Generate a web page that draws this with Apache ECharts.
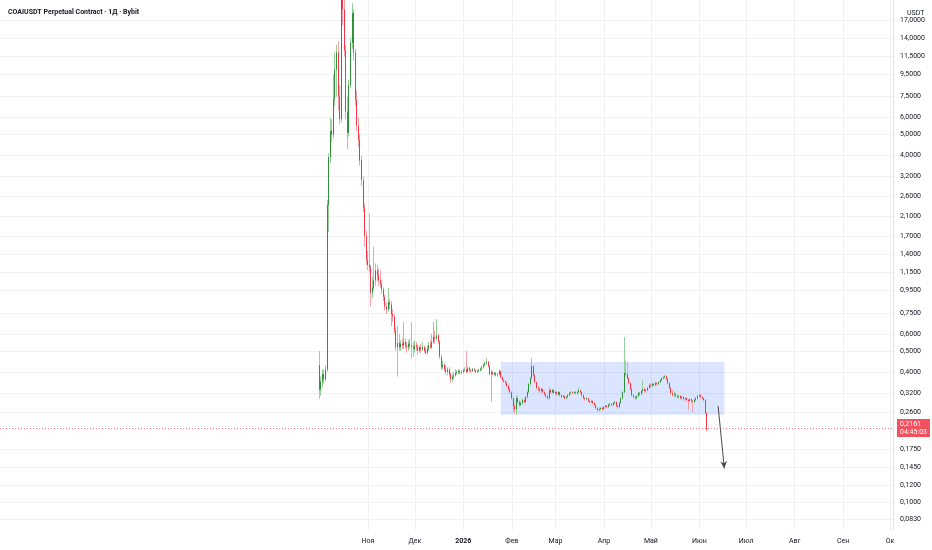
<!DOCTYPE html>
<html>
<head>
<meta charset="utf-8">
<script src="https://cdn.jsdelivr.net/npm/echarts@6/dist/echarts.min.js"></script>
<style>
html,body{margin:0;padding:0;background:#fff;}
#chart{width:932px;height:550px;}
</style>
</head>
<body>
<div id="chart"></div>
<script>
// ---------- data ----------
const titleText = 'COAIUSDT Perpetual Contract · 1Д · Bybit';
const currencyText = 'USDT';
const firstDay = '2025-10-01';
const axisStart = '2025-03-10T13:00:00';
const axisEnd = '2026-10-02T22:00:00';
const monthTicks = ['2025-11-01','2025-12-01','2026-01-01','2026-02-01','2026-03-01','2026-04-01','2026-05-01','2026-06-01','2026-07-01','2026-08-01','2026-09-01','2026-10-01'];
const monthLabels = ['Ноя','Дек','2026','Фев','Мар','Апр','Май','Июн','Июл','Авг','Сен','Ок'];
const priceTicks = [17,14,11.5,9.5,7.5,6,5,4,3.2,2.6,2.1,1.7,1.4,1.15,0.95,0.75,0.6,0.5,0.4,0.32,0.26,0.175,0.145,0.12,0.1,0.083];
const priceMin = 0.0742;
const priceMax = 21.0;
const lastPrice = 0.2161;
const countdown = '04:45:03';
const rangeBox = { from: '2026-01-25', to: '2026-06-17', top: 0.444, bottom: 0.253 };
const arrowFrom = ['2026-06-13', 0.278];
const arrowTo = ['2026-06-17', 0.143];
// daily candles from firstDay: [open, close, low, high]
const ohlc = [
[0.43,0.33,0.30,0.50],[0.33,0.36,0.31,0.38],[0.36,0.39,0.34,0.41],[0.39,0.37,0.35,0.41],[0.37,0.41,0.36,0.43],
[0.41,2.37,0.40,2.5],[2.37,3.94,1.78,4.1],[3.94,5.2,3.7,6.0],[5.2,5.0,4.6,5.9],[5.0,7.3,4.8,9.5],
[7.3,10.0,6.8,12.0],[10.0,12.0,7.5,13.0],[12.0,7.5,6.5,13.5],[7.5,5.9,5.6,8.5],[5.9,24.0,5.7,30.0],
[24.0,19.0,16.0,32.0],[19.0,12.3,11.5,21.0],[12.3,6.4,5.9,13.0],[6.4,5.1,4.3,7.5],[5.1,8.5,4.9,9.0],
[8.5,13.3,8.2,14.0],[13.3,18.3,12.5,20.3],[18.3,12.0,11.0,19.0],[12.0,7.25,6.8,12.5],[7.25,5.5,5.2,8.0],
[5.5,4.73,4.4,6.0],[4.73,3.8,3.6,5.0],[3.8,3.09,2.9,4.0],[3.09,2.3,2.2,3.2],[2.3,1.7,1.52,2.4],
[1.7,1.32,1.25,1.8],[1.32,1.25,1.18,1.45],[1.25,1.22,1.15,2.17],[1.22,0.93,0.80,1.25],[0.93,0.98,0.88,1.1],
[0.98,1.06,0.95,1.52],[1.06,1.18,1.0,1.27],[1.18,1.12,1.05,1.25],[1.12,1.06,1.0,1.2],[1.06,1.02,0.98,1.18],
[1.02,0.96,0.92,1.06],[0.96,0.89,0.85,0.98],[0.89,0.80,0.77,0.91],[0.80,0.78,0.74,0.84],[0.78,0.84,0.76,0.98],
[0.84,0.82,0.78,0.87],[0.82,0.74,0.65,0.85],[0.74,0.72,0.68,0.78],[0.72,0.62,0.60,0.74],[0.62,0.52,0.50,0.64],
[0.52,0.545,0.38,0.65],[0.545,0.52,0.50,0.60],[0.52,0.54,0.50,0.56],[0.54,0.53,0.51,0.57],[0.53,0.55,0.51,0.68],
[0.55,0.53,0.51,0.57],[0.53,0.52,0.49,0.55],[0.52,0.54,0.50,0.56],[0.54,0.53,0.51,0.57],[0.53,0.52,0.46,0.68],
[0.52,0.51,0.47,0.55],[0.51,0.53,0.49,0.56],[0.53,0.52,0.50,0.55],[0.52,0.50,0.48,0.54],[0.50,0.52,0.49,0.53],
[0.52,0.51,0.49,0.54],[0.51,0.52,0.50,0.55],[0.52,0.50,0.49,0.53],[0.50,0.49,0.48,0.52],[0.49,0.51,0.48,0.53],
[0.51,0.53,0.50,0.55],[0.53,0.52,0.51,0.56],[0.52,0.55,0.51,0.60],[0.55,0.58,0.54,0.68],[0.58,0.57,0.54,0.62],
[0.57,0.59,0.56,0.70],[0.59,0.55,0.54,0.60],[0.55,0.47,0.46,0.56],[0.47,0.42,0.41,0.48],[0.42,0.43,0.41,0.45],
[0.43,0.41,0.40,0.44],[0.41,0.40,0.39,0.43],[0.40,0.41,0.385,0.42],[0.41,0.39,0.38,0.42],[0.39,0.37,0.355,0.40],
[0.37,0.38,0.36,0.39],[0.38,0.385,0.37,0.40],[0.385,0.395,0.38,0.41],[0.395,0.399,0.388,0.408],[0.399,0.403,0.39,0.412],
[0.403,0.395,0.388,0.41],[0.395,0.399,0.39,0.408],[0.399,0.407,0.393,0.415],[0.407,0.41,0.40,0.42],[0.41,0.40,0.395,0.50],
[0.40,0.417,0.397,0.425],[0.417,0.407,0.40,0.422],[0.407,0.403,0.396,0.413],[0.403,0.412,0.40,0.418],[0.412,0.407,0.40,0.416],
[0.407,0.399,0.393,0.41],[0.399,0.403,0.394,0.41],[0.403,0.407,0.398,0.413],[0.407,0.412,0.40,0.418],[0.412,0.421,0.405,0.428],
[0.421,0.43,0.415,0.437],[0.43,0.439,0.424,0.446],[0.439,0.444,0.43,0.463],[0.444,0.425,0.42,0.45],[0.425,0.39,0.385,0.43],
[0.39,0.398,0.29,0.41],[0.398,0.39,0.385,0.403],[0.39,0.395,0.384,0.40],[0.395,0.386,0.38,0.40],[0.386,0.39,0.38,0.396],
[0.39,0.403,0.386,0.41],[0.403,0.378,0.372,0.407],[0.378,0.366,0.36,0.382],[0.366,0.362,0.355,0.372],[0.362,0.355,0.348,0.367],
[0.355,0.344,0.338,0.36],[0.344,0.333,0.326,0.35],[0.333,0.322,0.315,0.338],[0.322,0.302,0.295,0.327],[0.302,0.278,0.261,0.306],
[0.278,0.269,0.258,0.285],[0.269,0.302,0.253,0.31],[0.302,0.29,0.283,0.31],[0.29,0.281,0.274,0.296],[0.281,0.287,0.276,0.293],
[0.287,0.296,0.282,0.302],[0.296,0.29,0.284,0.30],[0.29,0.306,0.286,0.31],[0.306,0.322,0.30,0.328],[0.322,0.351,0.318,0.356],
[0.351,0.374,0.345,0.38],[0.374,0.425,0.37,0.463],[0.425,0.386,0.38,0.43],[0.386,0.358,0.352,0.39],[0.358,0.337,0.33,0.362],
[0.337,0.333,0.325,0.345],[0.333,0.326,0.32,0.34],[0.326,0.333,0.32,0.338],[0.333,0.322,0.316,0.337],[0.322,0.315,0.31,0.327],
[0.315,0.309,0.303,0.32],[0.309,0.302,0.297,0.314],[0.302,0.329,0.298,0.34],[0.329,0.322,0.316,0.334],[0.322,0.329,0.318,0.334],
[0.329,0.319,0.314,0.333],[0.319,0.322,0.313,0.328],[0.322,0.315,0.31,0.326],[0.315,0.322,0.311,0.326],[0.322,0.312,0.307,0.325],
[0.312,0.306,0.30,0.316],[0.306,0.309,0.301,0.313],[0.309,0.302,0.297,0.312],[0.302,0.306,0.298,0.31],[0.306,0.312,0.302,0.316],
[0.312,0.319,0.308,0.323],[0.319,0.322,0.314,0.327],[0.322,0.319,0.314,0.326],[0.319,0.322,0.315,0.326],[0.322,0.319,0.314,0.325],
[0.319,0.322,0.315,0.326],[0.322,0.329,0.318,0.34],[0.329,0.322,0.317,0.332],[0.322,0.312,0.307,0.325],[0.312,0.302,0.298,0.315],
[0.302,0.299,0.294,0.306],[0.299,0.302,0.295,0.306],[0.302,0.293,0.289,0.305],[0.293,0.29,0.285,0.297],[0.29,0.293,0.286,0.297],
[0.293,0.287,0.283,0.296],[0.287,0.281,0.277,0.29],[0.281,0.272,0.268,0.284],[0.272,0.266,0.261,0.275],[0.266,0.269,0.262,0.273],
[0.269,0.272,0.265,0.276],[0.272,0.269,0.265,0.275],[0.269,0.275,0.266,0.279],[0.275,0.278,0.271,0.282],[0.278,0.275,0.271,0.281],
[0.275,0.281,0.272,0.285],[0.281,0.284,0.277,0.288],[0.284,0.281,0.277,0.287],[0.281,0.287,0.278,0.291],[0.287,0.29,0.283,0.294],
[0.29,0.278,0.274,0.292],[0.278,0.275,0.27,0.282],[0.275,0.287,0.272,0.29],[0.287,0.302,0.284,0.306],[0.302,0.322,0.298,0.327],
[0.322,0.395,0.318,0.58],[0.395,0.39,0.38,0.45],[0.39,0.374,0.368,0.444],[0.374,0.355,0.35,0.378],[0.355,0.333,0.328,0.358],
[0.333,0.312,0.307,0.337],[0.312,0.306,0.30,0.316],[0.306,0.302,0.297,0.31],[0.302,0.309,0.298,0.313],[0.309,0.319,0.305,0.323],
[0.319,0.315,0.31,0.324],[0.315,0.326,0.312,0.33],[0.326,0.333,0.32,0.366],[0.333,0.326,0.32,0.338],[0.326,0.329,0.321,0.334],
[0.329,0.337,0.325,0.342],[0.337,0.347,0.333,0.352],[0.347,0.344,0.338,0.355],[0.344,0.351,0.34,0.356],[0.351,0.347,0.342,0.356],
[0.347,0.355,0.343,0.36],[0.355,0.351,0.346,0.359],[0.351,0.358,0.347,0.363],[0.358,0.366,0.354,0.37],[0.366,0.374,0.361,0.378],
[0.374,0.378,0.369,0.383],[0.378,0.382,0.372,0.388],[0.382,0.37,0.365,0.385],[0.37,0.355,0.35,0.374],[0.355,0.337,0.332,0.358],
[0.337,0.319,0.314,0.34],[0.319,0.312,0.307,0.33],[0.312,0.315,0.306,0.325],[0.315,0.309,0.303,0.322],[0.309,0.306,0.30,0.315],
[0.306,0.309,0.301,0.314],[0.309,0.302,0.297,0.312],[0.302,0.306,0.298,0.31],[0.306,0.299,0.294,0.309],[0.299,0.302,0.295,0.306],
[0.302,0.296,0.291,0.305],[0.296,0.293,0.266,0.30],[0.293,0.299,0.289,0.303],[0.299,0.293,0.288,0.302],[0.293,0.29,0.261,0.296],
[0.29,0.296,0.286,0.30],[0.296,0.302,0.292,0.306],[0.302,0.309,0.298,0.313],[0.309,0.312,0.304,0.316],[0.312,0.306,0.301,0.315],
[0.306,0.302,0.297,0.31],[0.302,0.296,0.291,0.305],[0.296,0.258,0.255,0.30],[0.258,0.2161,0.212,0.262]
];

// ---------- build ----------
const ts = s => new Date(s.length <= 10 ? s + 'T00:00:00' : s).getTime();
const d0 = new Date(firstDay + 'T00:00:00');
const days = ohlc.map((r, i) => new Date(d0.getFullYear(), d0.getMonth(), d0.getDate() + i).getTime());
const monthTs = monthTicks.map(ts);

const wickData = ohlc.map((r, i) => [days[i], r[0], r[1], r[2], r[3]]);
const bodyData = ohlc.map((r, i) => [days[i], r[0], r[1], Math.min(r[0], r[1]), Math.max(r[0], r[1])]);

const UP = '#2f8f3a', DOWN = '#f23645';
const UP_W = '#95cf99', DOWN_W = '#f6a0aa';
const FONT = 'Roboto, "Noto Sans", sans-serif';
const fmtPrice = v => v.toFixed(4).replace('.', ',');

const chart = echarts.init(document.getElementById('chart'), null, { renderer: 'canvas' });
chart.setOption({
  animation: false,
  backgroundColor: '#ffffff',
  textStyle: { fontFamily: FONT },
  title: [
    { text: titleText, left: 3, top: 4, textStyle: { fontSize: 7, fontWeight: 'bold', color: '#131722', fontFamily: FONT } },
    { text: currencyText, left: 902, top: 5, textStyle: { fontSize: 7, fontWeight: 'normal', color: '#131722', fontFamily: FONT } }
  ],
  grid: { left: 0, right: 39, top: 0, bottom: 20, containLabel: false },
  xAxis: {
    type: 'value',
    min: ts(axisStart),
    max: ts(axisEnd),
    axisLine: { show: false },
    axisTick: { show: false, customValues: monthTs },
    splitLine: { show: true, lineStyle: { color: '#f0f1f4', width: 1 } },
    axisLabel: {
      customValues: monthTs,
      fontSize: 7, color: '#131722', margin: 8, fontFamily: FONT,
      formatter: v => {
        const i = monthTs.indexOf(v);
        const t = i >= 0 ? monthLabels[i] : '';
        return i === 2 ? '{b|' + t + '}' : t;
      },
      rich: { b: { fontWeight: 'bold', fontSize: 7, color: '#131722', fontFamily: FONT } }
    }
  },
  yAxis: {
    type: 'log',
    logBase: 10,
    position: 'right',
    min: priceMin,
    max: priceMax,
    axisLine: { show: true, lineStyle: { color: '#e0e3eb' } },
    axisTick: { show: false, customValues: priceTicks },
    splitLine: { show: true, lineStyle: { color: '#f0f1f4', width: 1 } },
    axisLabel: {
      customValues: priceTicks,
      fontSize: 7, color: '#131722', margin: 7, fontFamily: FONT,
      formatter: v => fmtPrice(v)
    }
  },
  series: [
    {
      name: 'wicks',
      type: 'candlestick',
      data: wickData,
      encode: { x: 0, y: [1, 2, 3, 4] },
      barWidth: 1,
      z: 3,
      itemStyle: { color: UP_W, color0: DOWN_W, borderColor: UP_W, borderColor0: DOWN_W, borderWidth: 1 },
      markLine: {
        silent: true,
        symbol: ['none', 'none'],
        lineStyle: { color: '#f7808c', type: [1, 2], width: 1 },
        label: {
          show: true, position: 'end', distance: 4,
          formatter: fmtPrice(lastPrice) + '\n' + countdown,
          backgroundColor: '#f4515f', color: '#ffffff',
          fontSize: 7, lineHeight: 8, padding: [1, 3, 1, 3], fontFamily: FONT
        },
        data: [{ yAxis: lastPrice }]
      },
      markArea: {
        silent: true,
        itemStyle: { color: 'rgba(41,98,255,0.17)' },
        data: [[{ xAxis: ts(rangeBox.from), yAxis: rangeBox.top }, { xAxis: ts(rangeBox.to), yAxis: rangeBox.bottom }]]
      }
    },
    {
      name: 'bodies',
      type: 'candlestick',
      data: bodyData,
      encode: { x: 0, y: [1, 2, 3, 4] },
      barWidth: 1,
      z: 4,
      itemStyle: { color: UP, color0: DOWN, borderColor: UP, borderColor0: DOWN, borderWidth: 1 },
      markLine: {
        silent: true,
        symbol: ['none', 'arrow'],
        symbolSize: [5, 7],
        lineStyle: { color: '#4a4a4a', type: 'solid', width: 1 },
        label: { show: false },
        data: [[{ coord: [ts(arrowFrom[0]), arrowFrom[1]] }, { coord: [ts(arrowTo[0]), arrowTo[1]] }]]
      }
    }
  ]
});
</script>
</body>
</html>
